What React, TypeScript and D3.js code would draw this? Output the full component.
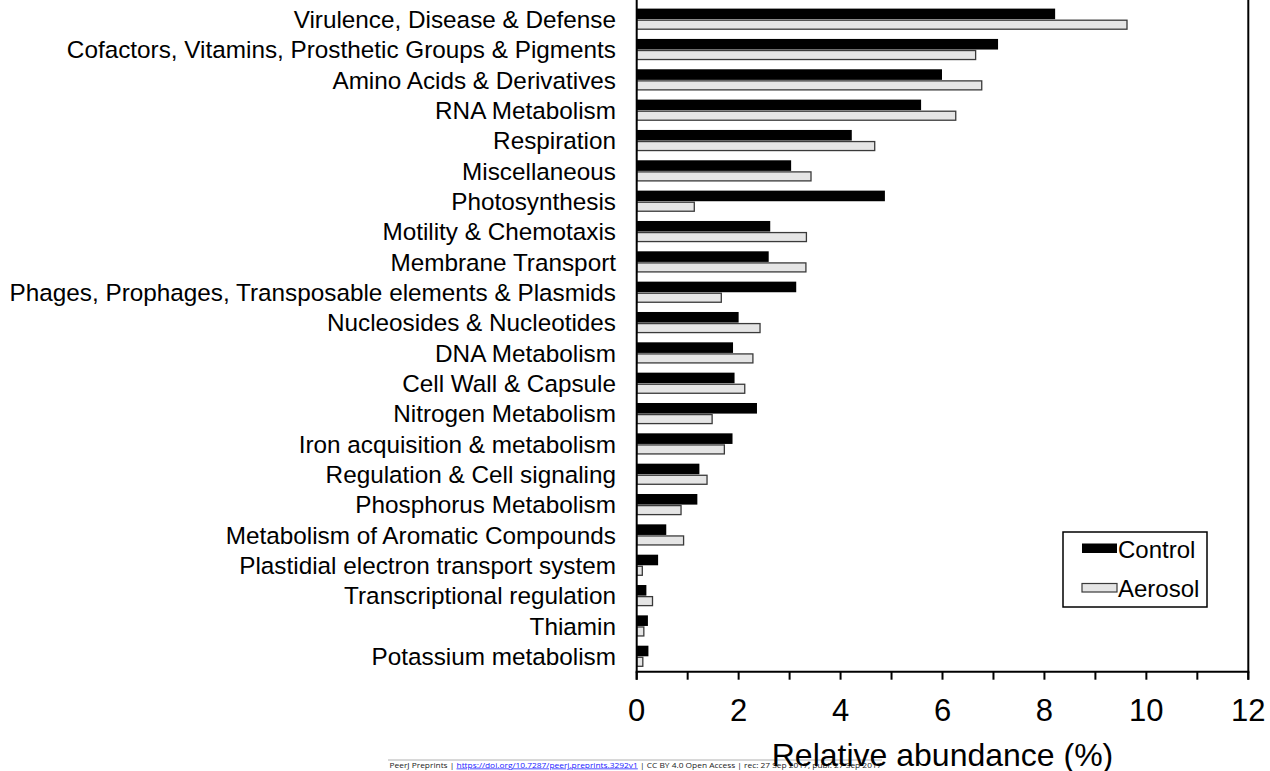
import React from "react";
import * as d3 from "d3";

const categories = [
  "Virulence, Disease & Defense",
  "Cofactors, Vitamins, Prosthetic Groups & Pigments",
  "Amino Acids & Derivatives",
  "RNA Metabolism",
  "Respiration",
  "Miscellaneous",
  "Photosynthesis",
  "Motility & Chemotaxis",
  "Membrane Transport",
  "Phages, Prophages, Transposable elements & Plasmids",
  "Nucleosides & Nucleotides",
  "DNA Metabolism",
  "Cell Wall & Capsule",
  "Nitrogen Metabolism",
  "Iron acquisition & metabolism",
  "Regulation & Cell signaling",
  "Phosphorus Metabolism",
  "Metabolism of Aromatic Compounds",
  "Plastidial electron transport system",
  "Transcriptional regulation",
  "Thiamin",
  "Potassium metabolism",
];

const control = [8.21, 7.09, 5.99, 5.58, 4.22, 3.03, 4.87, 2.62, 2.59, 3.13, 2.0, 1.89, 1.92, 2.36, 1.88, 1.23, 1.19, 0.58, 0.42, 0.19, 0.22, 0.23];
const aerosol = [9.62, 6.65, 6.77, 6.26, 4.67, 3.42, 1.13, 3.33, 3.32, 1.66, 2.42, 2.28, 2.12, 1.48, 1.72, 1.38, 0.87, 0.92, 0.11, 0.31, 0.14, 0.12];

const xTicks = [0, 1, 2, 3, 4, 5, 6, 7, 8, 9, 10, 11, 12];
const xLabels = [0, 2, 4, 6, 8, 10, 12];
const seriesNames = ["Control", "Aerosol"];

const FONT = "'Liberation Sans', Arial, Helvetica, sans-serif";

export default function App() {
  const W = 1270, H = 771;
  const x0 = 636.7, x1 = 1248.3, yAxis = 671.7;
  const x = d3.scaleLinear().domain([0, 12]).range([x0, x1]);
  const y = d3.scalePoint<string>().domain(categories).range([19.4, 656.5]);
  const barH = 10;

  return (
    <svg width={W} height={H} style={{ position: "absolute", left: 0, top: 0 }} fontFamily={FONT}>
      <rect x={0} y={0} width={W} height={H} fill="#fff" />
      {/* bars */}
      {categories.map((c, i) => {
        const cy = y(c)!;
        return (
          <g key={c}>
            <rect x={x(0)} y={cy - barH - 0.8} width={x(control[i]) - x(0)} height={barH + 0.6} fill="#000" />
            <rect x={x(0)} y={cy + 0.8} width={x(aerosol[i]) - x(0)} height={barH - 1} fill="#e5e5e5" stroke="#3a3a3a" strokeWidth={1.3} />
            <text x={616} y={cy} dy="0.35em" textAnchor="end" fontSize={24.3} fill="#000">{c}</text>
          </g>
        );
      })}
      {/* frame */}
      <line x1={x0} x2={x0} y1={0} y2={yAxis + 8} stroke="#000" strokeWidth={2} />
      <line x1={x1} x2={x1} y1={0} y2={yAxis + 8} stroke="#000" strokeWidth={2} />
      <line x1={x0 - 1} x2={x1 + 1} y1={yAxis} y2={yAxis} stroke="#000" strokeWidth={2} />
      {xTicks.map((t) => (
        <line key={t} x1={x(t)} x2={x(t)} y1={yAxis} y2={yAxis + 8} stroke="#000" strokeWidth={2} />
      ))}
      {xLabels.map((t) => (
        <text key={t} x={x(t)} y={720.5} textAnchor="middle" fontSize={31} fill="#000">{t}</text>
      ))}
      {/* legend */}
      <rect x={1063} y={532} width={144} height={75} fill="#fff" stroke="#000" strokeWidth={1.5} />
      <rect x={1082} y={543.5} width={35} height={9.5} fill="#000" />
      <rect x={1082} y={583.5} width={35} height={8.5} fill="#e5e5e5" stroke="#3a3a3a" strokeWidth={1.2} />
      <text x={1118} y={558} fontSize={24} fill="#000">{seriesNames[0]}</text>
      <text x={1118} y={597} fontSize={24} fill="#000">{seriesNames[1]}</text>
      {/* footer */}
      <line x1={388} x2={882} y1={760} y2={760} stroke="#b0b0b0" strokeWidth={1} />
      <text x={389.5} y={767.5} fontSize={7.6} fontFamily="'Open Sans', 'DejaVu Sans', sans-serif" fill="#222" textLength={492} lengthAdjust="spacingAndGlyphs">
        <tspan>PeerJ Preprints | </tspan>
        <tspan fill="#1a1aff" textDecoration="underline">https://doi.org/10.7287/peerj.preprints.3292v1</tspan>
        <tspan> | CC BY 4.0 Open Access | rec: 27 Sep 2017, publ: 27 Sep 2017</tspan>
      </text>
      {/* axis title */}
      <text x={(x0 + x1) / 2} y={766} textAnchor="middle" fontSize={32} fill="#000">Relative abundance (%)</text>
    </svg>
  );
}
